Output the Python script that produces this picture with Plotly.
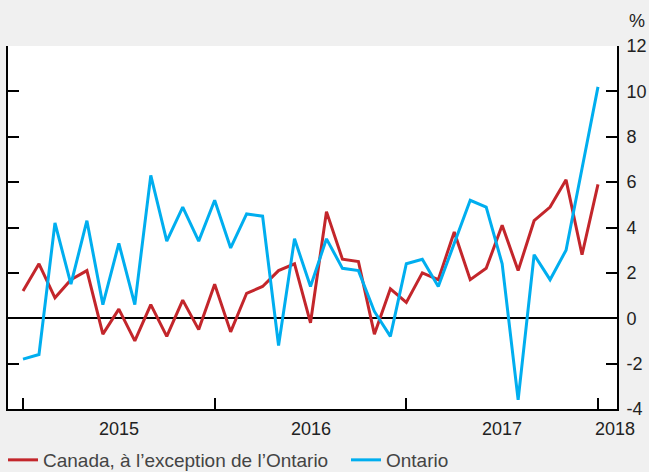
import plotly.graph_objects as go

# Monthly categories, Jan 2015 .. Jan 2018
months = [f"{y}-{m:02d}" for y in range(2015, 2019) for m in range(1, 13)][:37]

canada_ex_ontario = [1.2, 2.4, 0.9, 1.7, 2.1, -0.7, 0.4, -1.0, 0.6, -0.8, 0.8, -0.5,
                     1.5, -0.6, 1.1, 1.4, 2.1, 2.4, -0.2, 4.7, 2.6, 2.5, -0.7, 1.3,
                     0.7, 2.0, 1.7, 3.8, 1.7, 2.2, 4.1, 2.1, 4.3, 4.9, 6.1, 2.8, 5.9]
ontario = [-1.8, -1.6, 4.2, 1.5, 4.3, 0.6, 3.3, 0.6, 6.3, 3.4, 4.9, 3.4,
           5.2, 3.1, 4.6, 4.5, -1.2, 3.5, 1.4, 3.5, 2.2, 2.1, 0.3, -0.8,
           2.4, 2.6, 1.4, 3.3, 5.2, 4.9, 2.4, -3.6, 2.8, 1.7, 3.0, 6.6, 10.2]

series_names = ["Canada, à l’exception de l’Ontario", "Ontario"]
year_ticks = ["2015-01", "2016-01", "2017-01", "2018-01"]
year_labels = ["2015", "2016", "2017", "2018"]
year_label_pos = [6, 18, 30, 37.05]
y_ticks = [-4, -2, 0, 2, 4, 6, 8, 10, 12]
y_ticktext = ["-4", "-2", "0", "2", "4", "6", "8", "10", "12"]

RED = "#c3262b"
BLUE = "#00aeef"
FONT = "Liberation Sans, Arial, sans-serif"

fig = go.Figure()
fig.add_trace(go.Scatter(x=months, y=canada_ex_ontario, mode="lines", name=series_names[0],
                         line=dict(color=RED, width=3), legend="legend"))
fig.add_trace(go.Scatter(x=months, y=ontario, mode="lines", name=series_names[1],
                         line=dict(color=BLUE, width=3), legend="legend2"))

for lab, pos in zip(year_labels, year_label_pos):
    fig.add_annotation(x=pos, y=0, xref="x", yref="paper", text=lab, showarrow=False,
                       yanchor="top", yshift=-8, font=dict(size=18, color="#222", family=FONT))

fig.add_annotation(x=1, xref="paper", xshift=20, xanchor="center",
                   y=1.0689, yref="paper", yanchor="middle", text="%",
                   showarrow=False, font=dict(size=18, color="#222", family=FONT))

legend_common = dict(orientation="h", xanchor="left", y=-0.1405, yanchor="middle",
                     font=dict(size=19, color="#444", family=FONT),
                     bgcolor="rgba(0,0,0,0)")

fig.update_layout(
    width=649, height=472,
    margin=dict(l=8, r=32, t=46, b=63, autoexpand=False),
    paper_bgcolor="#f0f0f0", plot_bgcolor="white",
    font=dict(family=FONT, size=18, color="#222"),
    showlegend=True,
    legend=dict(x=-0.0082, **legend_common),
    legend2=dict(x=0.555, **legend_common),
    xaxis=dict(type="category", range=[-0.94, 37.19], showgrid=False, zeroline=False,
               showline=True, linecolor="black", linewidth=2,
               tickmode="array", tickvals=year_ticks, ticktext=["", "", "", ""],
               ticks="inside", ticklen=11, tickwidth=2, tickcolor="black"),
    yaxis=dict(side="right", range=[-4, 12], showgrid=False,
               zeroline=True, zerolinecolor="black", zerolinewidth=2,
               showline=True, linecolor="black", linewidth=2, mirror="ticks",
               tickmode="array", tickvals=y_ticks, ticktext=y_ticktext,
               ticks="inside", ticklen=11, tickwidth=2, tickcolor="black",
               ticklabelstandoff=4,
               tickfont=dict(size=18, color="#222", family=FONT)),
)

fig.write_html("out.html", config={"displayModeBar": False},
               post_script="document.body.style.margin='0';document.body.style.overflow='hidden';")
